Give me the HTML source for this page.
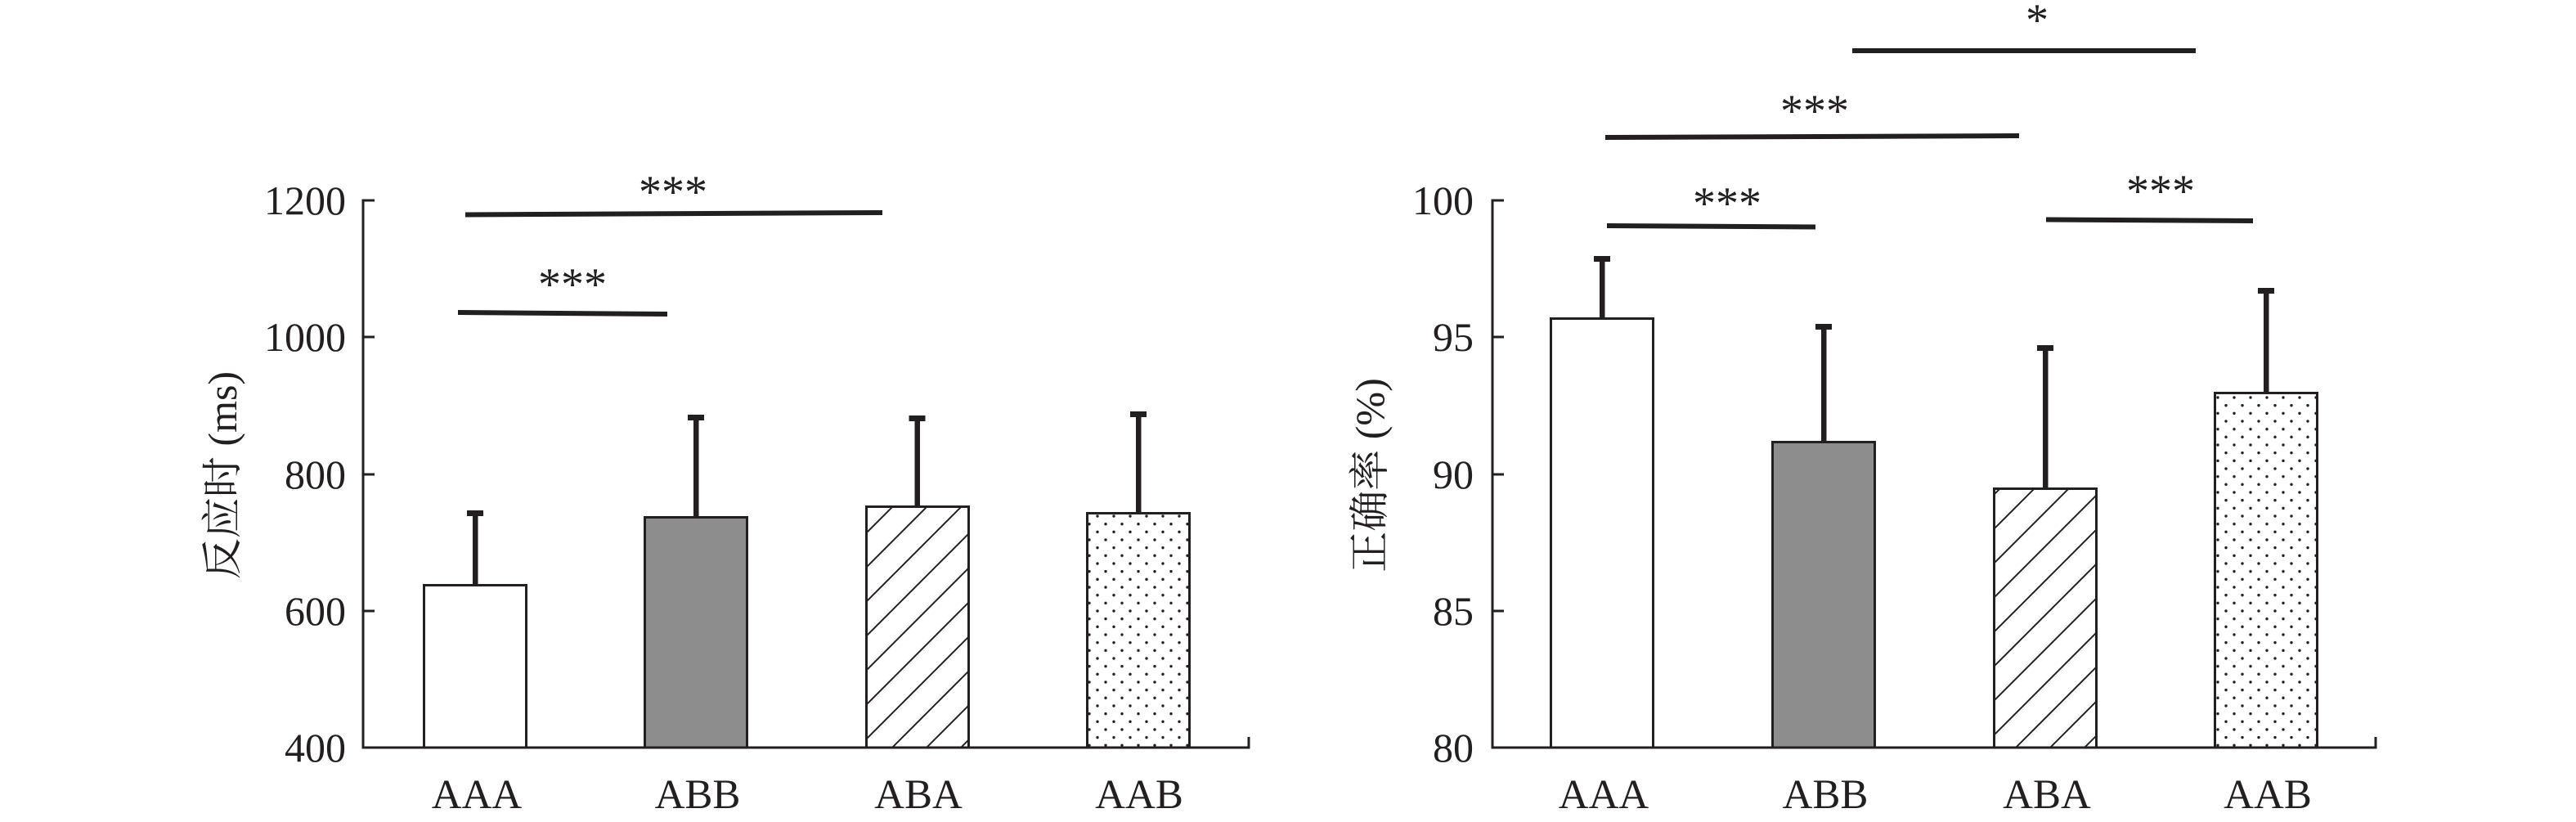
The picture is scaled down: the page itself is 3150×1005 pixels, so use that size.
<!DOCTYPE html>
<html>
<head>
<meta charset="utf-8">
<style>
  html, body { margin: 0; padding: 0; background: #fff; }
  svg { display: block; }
  .num { font-family: "Liberation Serif", serif; font-size: 50px; fill: #231f20; }
  .cat { font-family: "Liberation Serif", serif; font-size: 51px; fill: #231f20; }
  .star { font-family: "Liberation Serif", serif; font-size: 56px; fill: #231f20; }
  .ylab { font-family: "Liberation Serif", "Noto Serif CJK SC", serif; font-size: 50px; fill: #231f20; }
</style>
</head>
<body>
<svg width="3150" height="1005" viewBox="0 0 3150 1005" xmlns="http://www.w3.org/2000/svg">
  <defs>
    <pattern id="hatchL" patternUnits="userSpaceOnUse" width="42" height="42">
      <line x1="-2" y1="33" x2="33" y2="-2" stroke="#231f20" stroke-width="2"/>
      <line x1="29" y1="44" x2="44" y2="29" stroke="#231f20" stroke-width="2"/>
    </pattern>
    <pattern id="hatchR" patternUnits="userSpaceOnUse" width="42" height="42">
      <line x1="-2" y1="21" x2="21" y2="-2" stroke="#231f20" stroke-width="2"/>
      <line x1="17" y1="44" x2="44" y2="17" stroke="#231f20" stroke-width="2"/>
    </pattern>
    <pattern id="dotsL" patternUnits="userSpaceOnUse" x="1337" y="626.2" width="20" height="19.33">
      <circle cx="5" cy="4.83" r="1.7" fill="#231f20"/>
      <circle cx="15" cy="14.5" r="1.7" fill="#231f20"/>
    </pattern>
    <pattern id="dotsR" patternUnits="userSpaceOnUse" x="2707" y="481.2" width="20" height="19.33">
      <circle cx="5" cy="4.83" r="1.7" fill="#231f20"/>
      <circle cx="15" cy="14.5" r="1.7" fill="#231f20"/>
    </pattern>
  </defs>

  <rect x="0" y="0" width="3150" height="1005" fill="#fff"/>

  <!-- ================= LEFT CHART ================= -->
  <g stroke="#231f20" fill="none">
    <line x1="444" y1="243.5" x2="444" y2="915.5" stroke-width="3"/>
    <line x1="444" y1="245" x2="458" y2="245" stroke-width="3"/>
    <line x1="444" y1="412" x2="458" y2="412" stroke-width="3"/>
    <line x1="444" y1="580" x2="458" y2="580" stroke-width="3"/>
    <line x1="444" y1="747" x2="458" y2="747" stroke-width="3"/>
    <line x1="442.5" y1="914" x2="1528.5" y2="914" stroke-width="3"/>
    <line x1="1527" y1="901" x2="1527" y2="915" stroke-width="3"/>
  </g>

  <text class="num" x="423" y="262" text-anchor="end">1200</text>
  <text class="num" x="423" y="429" text-anchor="end">1000</text>
  <text class="num" x="423" y="597" text-anchor="end">800</text>
  <text class="num" x="423" y="764" text-anchor="end">600</text>
  <text class="num" x="423" y="931" text-anchor="end">400</text>

  <text class="ylab" transform="translate(289,581) rotate(-90)" text-anchor="middle">反应时 (ms)</text>

  <g stroke="#231f20" stroke-width="3">
    <rect x="518.5" y="715.5" width="125" height="198.5" fill="#fff"/>
    <rect x="788.5" y="632.5" width="125" height="281.5" fill="#8e8d8d"/>
    <rect x="1059.5" y="619.5" width="125" height="294.5" fill="#fff"/>
    <rect x="1059.5" y="619.5" width="125" height="294.5" fill="url(#hatchL)"/>
    <rect x="1329.5" y="627.5" width="125" height="286.5" fill="#fff"/>
    <rect x="1329.5" y="627.5" width="125" height="286.5" fill="url(#dotsL)"/>
  </g>

  <g fill="#231f20">
    <rect x="578" y="624" width="6.5" height="91"/>
    <rect x="571" y="624" width="20" height="7"/>
    <rect x="848" y="507" width="6.5" height="125"/>
    <rect x="841" y="507" width="20" height="7"/>
    <rect x="1118.5" y="508" width="6.5" height="111"/>
    <rect x="1111.5" y="508" width="20" height="7"/>
    <rect x="1389" y="503" width="6.5" height="124"/>
    <rect x="1382" y="503" width="20" height="7"/>
  </g>

  <g stroke="#231f20" stroke-width="6">
    <line x1="569" y1="262.5" x2="1079" y2="260"/>
    <line x1="560" y1="382" x2="816" y2="384"/>
  </g>
  <text class="star" x="823" y="253" text-anchor="middle">***</text>
  <text class="star" x="700" y="366" text-anchor="middle">***</text>

  <text class="cat" x="583" y="988" text-anchor="middle">AAA</text>
  <text class="cat" x="853" y="988" text-anchor="middle">ABB</text>
  <text class="cat" x="1123" y="988" text-anchor="middle">ABA</text>
  <text class="cat" x="1393" y="988" text-anchor="middle">AAB</text>

  <!-- ================= RIGHT CHART ================= -->
  <g stroke="#231f20" fill="none">
    <line x1="1825" y1="243.5" x2="1825" y2="915.5" stroke-width="3"/>
    <line x1="1825" y1="245" x2="1839" y2="245" stroke-width="3"/>
    <line x1="1825" y1="412" x2="1839" y2="412" stroke-width="3"/>
    <line x1="1825" y1="580" x2="1839" y2="580" stroke-width="3"/>
    <line x1="1825" y1="747" x2="1839" y2="747" stroke-width="3"/>
    <line x1="1823.5" y1="914" x2="2906.5" y2="914" stroke-width="3"/>
    <line x1="2905" y1="901" x2="2905" y2="915" stroke-width="3"/>
  </g>

  <text class="num" x="1802" y="262" text-anchor="end">100</text>
  <text class="num" x="1802" y="429" text-anchor="end">95</text>
  <text class="num" x="1802" y="597" text-anchor="end">90</text>
  <text class="num" x="1802" y="764" text-anchor="end">85</text>
  <text class="num" x="1802" y="931" text-anchor="end">80</text>

  <text class="ylab" transform="translate(1692,581) rotate(-90)" text-anchor="middle">正确率 (%)</text>

  <g stroke="#231f20" stroke-width="3">
    <rect x="1896.5" y="389.5" width="125" height="524.5" fill="#fff"/>
    <rect x="2167.5" y="540.5" width="125" height="373.5" fill="#8e8d8d"/>
    <rect x="2438.5" y="597.5" width="125" height="316.5" fill="#fff"/>
    <rect x="2438.5" y="597.5" width="125" height="316.5" fill="url(#hatchR)"/>
    <rect x="2708.5" y="480.5" width="125" height="433.5" fill="#fff"/>
    <rect x="2708.5" y="480.5" width="125" height="433.5" fill="url(#dotsR)"/>
  </g>

  <g fill="#231f20">
    <rect x="1956" y="313" width="6.5" height="76"/>
    <rect x="1949" y="313" width="20" height="7"/>
    <rect x="2227" y="396" width="6.5" height="144"/>
    <rect x="2220" y="396" width="20" height="7"/>
    <rect x="2498" y="422" width="6.5" height="175"/>
    <rect x="2491" y="422" width="20" height="7"/>
    <rect x="2768" y="352" width="6.5" height="128"/>
    <rect x="2761" y="352" width="20" height="7"/>
  </g>

  <g stroke="#231f20" stroke-width="6">
    <line x1="1965" y1="276" x2="2220" y2="277.5"/>
    <line x1="1963" y1="168" x2="2469" y2="166"/>
    <line x1="2265" y1="62" x2="2685" y2="62"/>
    <line x1="2502" y1="268.5" x2="2755" y2="270"/>
  </g>
  <text class="star" x="2112" y="267" text-anchor="middle">***</text>
  <text class="star" x="2219" y="154" text-anchor="middle">***</text>
  <text class="star" x="2491" y="43" text-anchor="middle">*</text>
  <text class="star" x="2642" y="252" text-anchor="middle">***</text>

  <text class="cat" x="1961" y="988" text-anchor="middle">AAA</text>
  <text class="cat" x="2232" y="988" text-anchor="middle">ABB</text>
  <text class="cat" x="2503" y="988" text-anchor="middle">ABA</text>
  <text class="cat" x="2773" y="988" text-anchor="middle">AAB</text>
</svg>
</body>
</html>
